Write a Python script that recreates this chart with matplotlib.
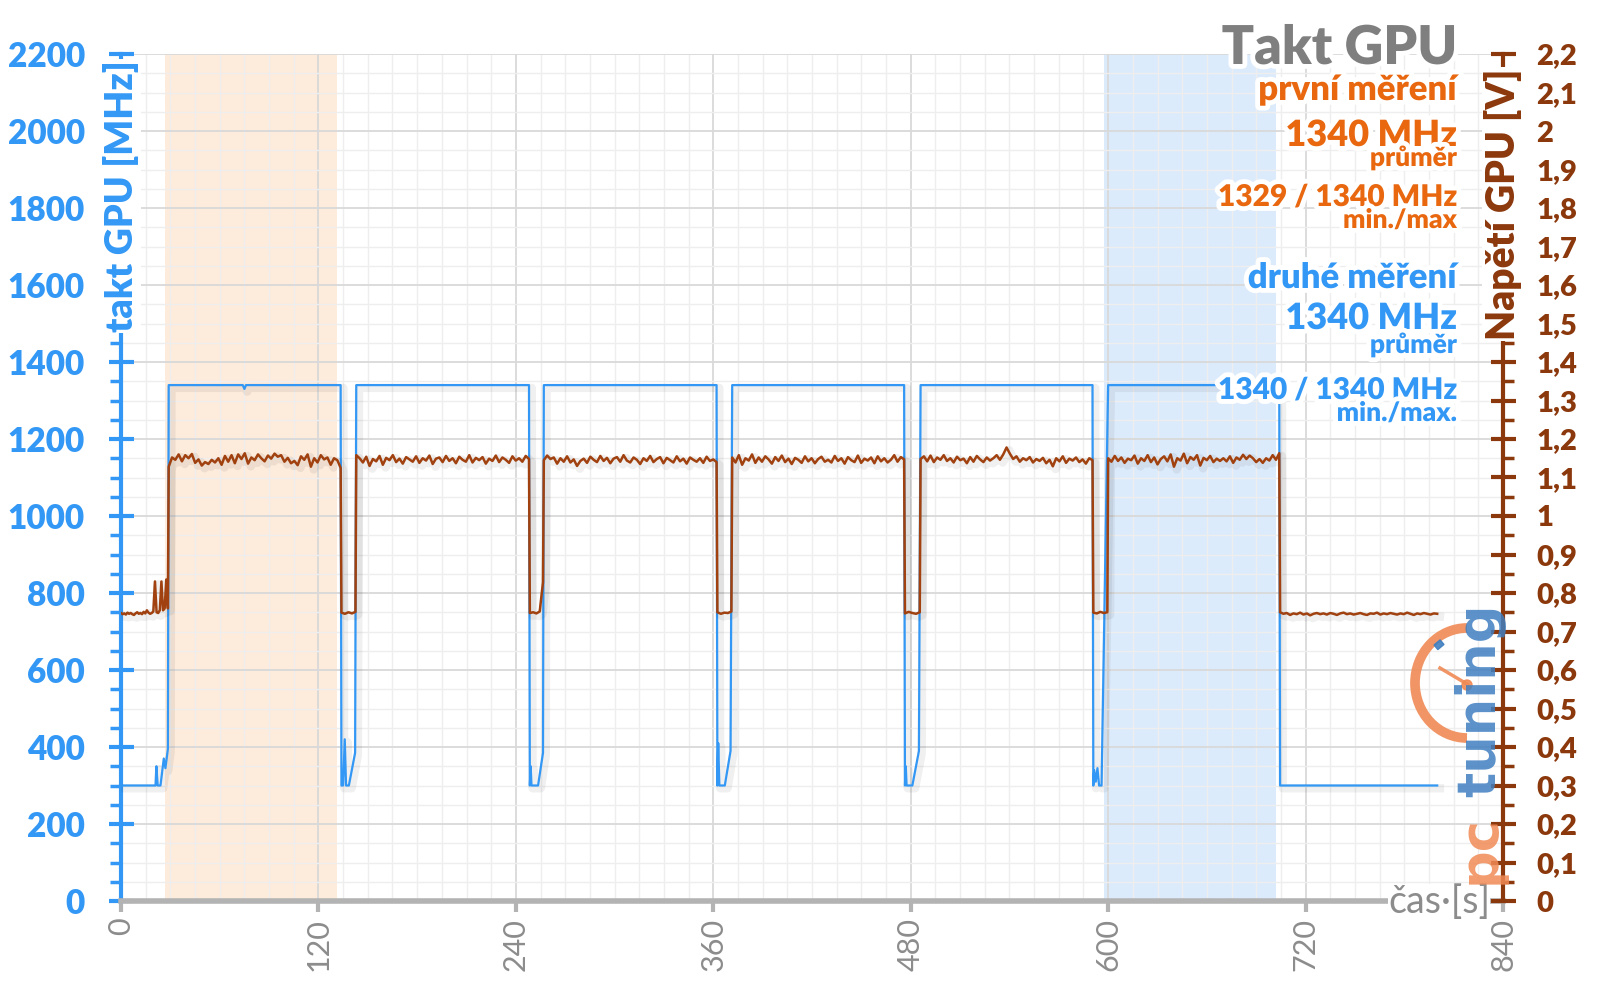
import numpy as np
import matplotlib
matplotlib.use("Agg")
import matplotlib.pyplot as plt
from matplotlib import patheffects as pe
from matplotlib.patches import Arc, Circle, Rectangle

FONT = ['Lato', 'DejaVu Sans']
plt.rcParams['font.family'] = FONT

BLUE = '#3398F5'
ORANGE = '#E8670F'
BROWN = '#8B380C'
BROWN_LINE = '#A0410F'
GRAY = '#8C8C8C'
W = 'heavy'

# GPU clock, breakpoints (s, MHz)
clock_t = [0, 21, 21.5, 22.3, 24, 26, 27, 28.5, 29,
           74, 75, 76, 133.5,
           134, 135, 136, 136.8, 138.5, 142.3, 143,
           248, 248.5, 249, 249.5, 253.5, 256.5, 257,
           362, 362.5, 363, 363.7, 367, 370.5, 371.5,
           476, 476.5, 477, 477.5, 481, 485, 486,
           590.5, 591, 591.5, 592.5, 593.5, 594.5, 596, 600,
           704, 704.5, 800]
clock_mhz = [300, 300, 350, 300, 300, 370, 345, 395, 1340,
             1340, 1330, 1340, 1340,
             300, 300, 420, 300, 300, 385, 1340,
             1340, 300, 350, 300, 300, 385, 1340,
             1340, 300, 410, 300, 300, 390, 1340,
             1340, 300, 350, 300, 300, 390, 1340,
             1340, 300, 340, 310, 345, 300, 300, 1340,
             1340, 300, 300]

# GPU voltage, sampled per phase (phase start s, phase end s)
volt_spans = [(0, 28.5), (29, 133.5), (134, 142.5), (143, 248), (248.5, 256.5),
              (257, 362), (362.5, 371), (371.5, 476), (476.5, 485.5),
              (486, 590.5), (591, 599.5), (600, 704), (704.5, 800)]
volt_idle0 = [0.748, 0.745, 0.747, 0.744, 0.749, 0.746, 0.748, 0.745, 0.743, 0.747,
              0.750, 0.746, 0.748, 0.745, 0.751, 0.747, 0.755, 0.749, 0.746, 0.748,
              0.752, 0.830, 0.750, 0.748, 0.755, 0.830, 0.755, 0.760, 0.835, 0.760]
volt_load1 = [1.128, 1.152, 1.146, 1.160, 1.142, 1.158, 1.150, 1.161, 1.138, 1.147,
              1.131, 1.140, 1.135, 1.146, 1.139, 1.150, 1.133, 1.156, 1.141, 1.158,
              1.137, 1.160, 1.148, 1.163, 1.136, 1.152, 1.145, 1.160, 1.150, 1.142,
              1.157, 1.149, 1.162, 1.154, 1.158, 1.141, 1.151, 1.137, 1.143, 1.132,
              1.155, 1.146, 1.160, 1.128, 1.150, 1.139, 1.158, 1.147, 1.152, 1.133,
              1.150, 1.145, 1.125]
volt_dip1 = [0.749, 0.746, 0.750, 0.747, 0.751]
volt_load2 = [1.158, 1.150, 1.139, 1.154, 1.130, 1.148, 1.142, 1.156, 1.133, 1.151,
              1.145, 1.158, 1.140, 1.149, 1.136, 1.153, 1.147, 1.141, 1.155, 1.138,
              1.150, 1.144, 1.157, 1.135, 1.149, 1.152, 1.140, 1.156, 1.143, 1.150,
              1.137, 1.154, 1.146, 1.141, 1.158, 1.139, 1.151, 1.145, 1.153, 1.136,
              1.149, 1.143, 1.157, 1.140, 1.152, 1.146, 1.138, 1.155, 1.144, 1.150,
              1.141, 1.156, 1.148]
volt_dip2 = [0.748, 0.750, 0.747, 0.752, 0.828]
volt_load3 = [1.145, 1.157, 1.148, 1.152, 1.136, 1.150, 1.141, 1.155, 1.139, 1.147,
              1.130, 1.143, 1.149, 1.138, 1.154, 1.146, 1.140, 1.156, 1.143, 1.151,
              1.137, 1.149, 1.153, 1.141, 1.158, 1.144, 1.139, 1.152, 1.146, 1.135,
              1.150, 1.143, 1.156, 1.140, 1.148, 1.153, 1.137, 1.151, 1.145, 1.139,
              1.155, 1.142, 1.149, 1.136, 1.152, 1.146, 1.141, 1.150, 1.138, 1.154,
              1.143, 1.147, 1.140]
volt_dip3 = [0.750, 0.746, 0.749, 0.748, 0.752]
volt_load4 = [1.152, 1.139, 1.158, 1.133, 1.150, 1.144, 1.160, 1.138, 1.152, 1.141,
              1.155, 1.147, 1.136, 1.153, 1.143, 1.157, 1.140, 1.149, 1.135, 1.151,
              1.146, 1.138, 1.155, 1.142, 1.150, 1.137, 1.148, 1.154, 1.141, 1.146,
              1.139, 1.156, 1.143, 1.150, 1.136, 1.153, 1.145, 1.140, 1.157, 1.138,
              1.149, 1.144, 1.152, 1.137, 1.155, 1.142, 1.150, 1.139, 1.146, 1.158,
              1.141, 1.153, 1.147]
volt_dip4 = [0.747, 0.751, 0.748, 0.746, 0.750]
volt_load5 = [1.148, 1.155, 1.142, 1.157, 1.140, 1.152, 1.146, 1.158, 1.143, 1.150,
              1.139, 1.154, 1.145, 1.149, 1.137, 1.153, 1.141, 1.156, 1.147, 1.140,
              1.152, 1.144, 1.150, 1.158, 1.146, 1.160, 1.178, 1.162, 1.148, 1.155,
              1.141, 1.150, 1.145, 1.153, 1.139, 1.148, 1.143, 1.151, 1.137, 1.146,
              1.129, 1.150, 1.142, 1.155, 1.138, 1.149, 1.144, 1.152, 1.140, 1.147,
              1.136, 1.150, 1.145]
volt_dip5 = [0.749, 0.747, 0.751, 0.748, 0.750]
volt_load6 = [1.150, 1.141, 1.156, 1.143, 1.152, 1.138, 1.149, 1.145, 1.157, 1.136,
              1.150, 1.143, 1.158, 1.140, 1.152, 1.134, 1.148, 1.155, 1.142, 1.160,
              1.128, 1.150, 1.144, 1.162, 1.137, 1.153, 1.146, 1.158, 1.131, 1.151,
              1.145, 1.156, 1.140, 1.149, 1.143, 1.150, 1.142, 1.155, 1.138, 1.152,
              1.146, 1.159, 1.148, 1.157, 1.150, 1.140, 1.148, 1.138, 1.150, 1.144,
              1.158, 1.146, 1.163]
volt_idle_end = [0.750, 0.746, 0.748, 0.743, 0.747, 0.745, 0.749, 0.744, 0.747, 0.742,
                 0.746, 0.748, 0.745, 0.747, 0.744, 0.748, 0.746, 0.743, 0.747, 0.749,
                 0.745, 0.747, 0.744, 0.746, 0.748, 0.745, 0.743, 0.747, 0.746, 0.749,
                 0.744, 0.747, 0.745, 0.748, 0.746, 0.744, 0.747, 0.745, 0.749, 0.746,
                 0.743, 0.747, 0.745, 0.748, 0.746, 0.744, 0.747, 0.746]
volt_phases = [volt_idle0, volt_load1, volt_dip1, volt_load2, volt_dip2, volt_load3,
               volt_dip3, volt_load4, volt_dip4, volt_load5, volt_dip5, volt_load6,
               volt_idle_end]

# highlighted measurement windows (s)
first_run = (27, 131.5)
second_run = (597.5, 702)

x_ticks = [0, 120, 240, 360, 480, 600, 720, 840]
mhz_ticks = [0, 200, 400, 600, 800, 1000, 1200, 1400, 1600, 1800, 2000, 2200]
volt_ticks = [0, 0.1, 0.2, 0.3, 0.4, 0.5, 0.6, 0.7, 0.8, 0.9, 1.0, 1.1,
              1.2, 1.3, 1.4, 1.5, 1.6, 1.7, 1.8, 1.9, 2.0, 2.1, 2.2]
volt_labels = ['0', '0,1', '0,2', '0,3', '0,4', '0,5', '0,6', '0,7', '0,8', '0,9', '1', '1,1',
               '1,2', '1,3', '1,4', '1,5', '1,6', '1,7', '1,8', '1,9', '2', '2,1', '2,2']

volt_t = np.concatenate([np.linspace(a, b, len(v)) for (a, b), v in zip(volt_spans, volt_phases)])
volt = np.concatenate(volt_phases)

fig = plt.figure(figsize=(16, 9.99), dpi=100)
ax = fig.add_axes([121 / 1600, 98 / 999, 1382 / 1600, 847 / 999])
ax2 = ax.twinx()

ax.axvspan(*first_run, color='#FDEBDB', lw=0, zorder=0.2)
ax.axvspan(*second_run, color='#DCEBFC', lw=0, zorder=0.2)

shadow = [pe.SimpleLineShadow(offset=(2, -2), shadow_color='black', alpha=0.06, linewidth=6), pe.Normal()]
ax.plot(clock_t, clock_mhz, color=BLUE, lw=1.6, zorder=3, path_effects=shadow)
ax2.plot(volt_t, volt, color=BROWN_LINE, lw=1.8, zorder=3, path_effects=shadow)

ax.set_xlim(0, 840)
ax.set_ylim(0, 2200)
ax2.set_ylim(0, 2.2)

ax.set_xticks(x_ticks)
ax.set_xticklabels([str(v) for v in x_ticks], rotation=90, color=GRAY, fontsize=22)
ax.set_xticks(np.arange(0, 841, 15), minor=True)
ax.set_yticks(mhz_ticks)
ax.set_yticklabels([str(v) for v in mhz_ticks], color=BLUE, fontsize=24, fontweight=W)
ax.set_yticks(np.arange(0, 2201, 50), minor=True)
ax2.set_yticks(volt_ticks)
ax2.set_yticklabels(volt_labels, color=BROWN, fontsize=21, fontweight=W)
ax2.set_yticks(np.arange(0, 2.21, 0.05), minor=True)

ax.set_axisbelow(True)
ax.grid(which='major', color='#D9D9D9', lw=1.3)
ax.grid(which='minor', color='#EEEEEE', lw=1.0)

ax.tick_params(axis='x', which='major', direction='out', length=8, width=3, color='#B3B3B3', pad=4)
ax.tick_params(axis='x', which='minor', length=0)
ax.tick_params(axis='y', which='major', direction='inout', length=18, width=3, color=BLUE, pad=17)
ax.tick_params(axis='y', which='minor', direction='out', length=8, width=2.5, color=BLUE)
ax2.tick_params(axis='y', which='major', direction='inout', length=18, width=3, color=BROWN, pad=15)
ax2.tick_params(axis='y', which='minor', direction='out', length=8, width=2.5, color=BROWN)

for s in ['top', 'right']:
    ax.spines[s].set_visible(False)
for s in ['top', 'left', 'bottom']:
    ax2.spines[s].set_visible(False)
ax.spines['left'].set_color(BLUE)
ax.spines['left'].set_linewidth(3)
ax.spines['bottom'].set_color('#B3B3B3')
ax.spines['bottom'].set_linewidth(4)
ax2.spines['right'].set_color(BROWN)
ax2.spines['right'].set_linewidth(3)

# overlay in pixel coordinates for titles, axis labels and logo
ov = fig.add_axes([0, 0, 1, 1], zorder=10)
ov.set_xlim(0, 1600)
ov.set_ylim(999, 0)
ov.axis('off')

glow = [pe.withStroke(linewidth=7, foreground='white')]

ov.text(121, 196, 'takt GPU [MHz]', rotation=90, ha='center', va='center', color=BLUE,
        fontsize=27, fontweight=W, bbox=dict(facecolor='white', edgecolor='none', pad=1))
ov.text(1503, 204, 'Napětí GPU [V]', rotation=90, ha='center', va='center', color=BROWN,
        fontsize=28, fontweight=W, bbox=dict(facecolor='white', edgecolor='none', pad=1))
ov.text(1490, 902, 'čas·[s]', ha='right', va='center', color=GRAY, fontsize=27,
        bbox=dict(facecolor='white', edgecolor='none', pad=0))

RX = 1457
ov.text(RX, 64, 'Takt GPU', ha='right', va='baseline', color='#7F7F7F', fontsize=38.5,
        fontweight=W, path_effects=glow)
ov.text(RX, 100, 'první měření', ha='right', va='baseline', color=ORANGE, fontsize=25,
        fontweight=W, path_effects=glow)
ov.text(RX, 146, '1340 MHz', ha='right', va='baseline', color=ORANGE, fontsize=26,
        fontweight=W, path_effects=glow)
ov.text(RX, 166, 'průměr', ha='right', va='baseline', color=ORANGE, fontsize=19,
        fontweight=W, path_effects=glow)
ov.text(RX, 206, '1329 / 1340 MHz', ha='right', va='baseline', color=ORANGE, fontsize=21.5,
        fontweight=W, path_effects=glow)
ov.text(RX, 228, 'min./max', ha='right', va='baseline', color=ORANGE, fontsize=19,
        fontweight=W, path_effects=glow)
ov.text(RX, 288, 'druhé měření', ha='right', va='baseline', color=BLUE, fontsize=25,
        fontweight=W, path_effects=glow)
ov.text(RX, 329, '1340 MHz', ha='right', va='baseline', color=BLUE, fontsize=26,
        fontweight=W, path_effects=glow)
ov.text(RX, 353, 'průměr', ha='right', va='baseline', color=BLUE, fontsize=19,
        fontweight=W, path_effects=glow)
ov.text(RX, 399, '1340 / 1340 MHz', ha='right', va='baseline', color=BLUE, fontsize=21.5,
        fontweight=W, path_effects=glow)
ov.text(RX, 421, 'min./max.', ha='right', va='baseline', color=BLUE, fontsize=19,
        fontweight=W, path_effects=glow)

# pctuning logo
ov.add_patch(Arc((1467, 683), 104, 110, theta1=90, theta2=270, color='#F08A55', lw=7, alpha=0.9))
ov.plot([1440, 1467], [668, 684], color='#F08A55', lw=2.5, alpha=0.9)
ov.add_patch(Circle((1467, 685), 5, color='#F08A55', alpha=0.9))
ov.add_patch(Rectangle((1434, 645), 8, 6, angle=-40, color='#3F7FC0', alpha=0.9))
ov.text(1480, 700, 'tuning', rotation=90, ha='center', va='center', color='#3F7FC0',
        fontsize=38, fontweight='bold', family='DejaVu Sans', alpha=0.85)
ov.text(1480, 850, 'pc', rotation=90, ha='center', va='center', color='#F08A55',
        fontsize=38, fontweight='bold', family='DejaVu Sans', alpha=0.85)

fig.savefig('out.png', dpi=100, facecolor='white')
